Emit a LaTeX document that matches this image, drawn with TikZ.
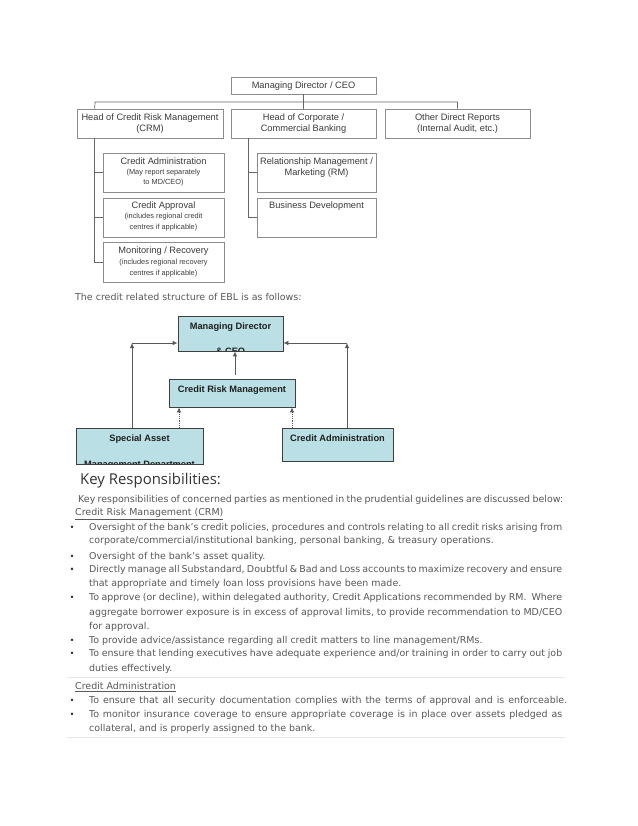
\documentclass[tikz,border=0pt]{standalone}
\usepackage{fontspec}
\usetikzlibrary{arrows.meta}
\newfontfamily\arialf{Liberation Sans}
\newfontfamily\bodyf{DejaVu Sans}
\newfontfamily\headf{Open Sans}
\definecolor{tealfill}{RGB}{186,223,228}
\definecolor{bodygray}{RGB}{88,88,88}
\definecolor{sepgray}{RGB}{232,232,232}
\definecolor{orgtext}{RGB}{60,60,60}
\tikzset{
  obox/.style={draw=black!45, line width=0.6bp, inner sep=0pt},
  otext/.style={font=\arialf\fontsize{9.3}{11}\selectfont, text=orgtext, inner sep=0pt, anchor=base},
  osub/.style={font=\arialf\fontsize{7.4}{9}\selectfont, text=orgtext, inner sep=0pt, anchor=base},
  olink/.style={draw=black!60, line width=0.7bp},
  tbox/.style={draw=black!75, fill=tealfill, line width=0.8bp, inner sep=0pt},
  ttext/.style={font=\arialf\bfseries\fontsize{9.3}{11}\selectfont, text=black!88, anchor=base, inner sep=0pt},
  tarrow/.style={draw=black!65, line width=0.8bp, -{Latex[length=5bp,width=4.5bp]}},
  tdotted/.style={tarrow, densely dotted},
  body/.style={font=\bodyf\fontsize{9.5}{11}\selectfont, text=bodygray, anchor=base west, inner sep=0pt},
  bul/.style={font=\bodyf\fontsize{8.5}{10}\selectfont, text=black!80, anchor=base, inner sep=0pt},
  heading/.style={font=\headf\fontsize{15}{18}\selectfont, text=black!80, anchor=base west, inner sep=0pt},
  sep/.style={draw=sepgray, line width=0.8bp}
}
\begin{document}
\begin{tikzpicture}[x=1bp, y=-1bp]
\useasboundingbox[fill=white] (0,0) rectangle (638,826);

% ---------- Chart 1 ----------
\node[obox, minimum width=145bp, minimum height=17bp] (md1) at (303.5,85.5) {};
\node[obox, minimum width=146bp, minimum height=29bp] (crm1) at (150,123.5) {};
\node[obox, minimum width=145bp, minimum height=29bp] (corp1) at (303.5,123.5) {};
\node[obox, minimum width=145bp, minimum height=29bp] (oth1) at (457.5,123.5) {};
\node[obox, minimum width=121bp, minimum height=39bp] (ca1) at (163.5,172.5) {};
\node[obox, minimum width=121bp, minimum height=39bp] (cap1) at (163.5,217.5) {};
\node[obox, minimum width=121bp, minimum height=40bp] (mon1) at (163.5,262) {};
\node[obox, minimum width=119bp, minimum height=39bp] (rm1) at (316.5,172.5) {};
\node[obox, minimum width=119bp, minimum height=39bp] (bd1) at (316.5,217.5) {};

\node[otext] (md1t) at (303.5,88.5) {Managing Director / CEO};
\node[otext] (crm1a) at (150,120.5) {Head of Credit Risk Management};
\node[otext] (crm1b) at (150,131.5) {(CRM)};
\node[otext] (corp1a) at (303.5,120.5) {Head of Corporate /};
\node[otext] (corp1b) at (303.5,131.5) {Commercial Banking};
\node[otext] (oth1a) at (457.5,120.5) {Other Direct Reports};
\node[otext] (oth1b) at (457.5,131.5) {(Internal Audit, etc.)};
\node[otext] (ca1a) at (163.5,164.5) {Credit Administration};
\node[osub] (ca1b) at (163.5,174.7) {(May report separately};
\node[osub] (ca1c) at (163.5,184.7) {to MD/CEO)};
\node[otext] (cap1a) at (163.5,208.5) {Credit Approval};
\node[osub] (cap1b) at (163.5,218.7) {(includes regional credit};
\node[osub] (cap1c) at (163.5,229.7) {centres if applicable)};
\node[otext] (mon1a) at (163.5,253.5) {Monitoring / Recovery};
\node[osub] (mon1b) at (163.5,264.7) {(includes regional recovery};
\node[osub] (mon1c) at (163.5,275.7) {centres if applicable)};
\node[otext] (rm1a) at (316.5,164.5) {Relationship Management /};
\node[otext] (rm1b) at (316.5,175.5) {Marketing (RM)};
\node[otext] (bd1a) at (316.5,208.5) {Business Development};

\coordinate (busL) at (95,102);
\coordinate (busR) at (457.5,102);
\draw[olink] ([xshift=18bp]crm1.north west) -- (busL) -- (busR) -- (oth1.north);
\draw[olink] (md1.south) -- (corp1.north);
\draw[olink] ([xshift=18bp]crm1.south west) |- (mon1.west);
\draw[olink] (ca1.west) -- ++(-8,0);
\draw[olink] (cap1.west) -- ++(-8,0);
\draw[olink] ([xshift=18bp]corp1.south west) |- (bd1.west);
\draw[olink] (rm1.west) -- ++(-8,0);

% ---------- caption ----------
\node[body] (cap) at (75,300) {The credit related structure of EBL is as follows:};

% ---------- Chart 2 ----------
\node[tbox, minimum width=105bp, minimum height=35bp] (md2) at (230.5,333.5) {};
\node[tbox, minimum width=126bp, minimum height=28bp] (crm2) at (232,393) {};
\node[tbox, minimum width=127bp, minimum height=36bp] (sa2) at (139.5,446) {};
\node[tbox, minimum width=111bp, minimum height=33bp] (ca2) at (337.5,444.5) {};

\node[ttext] (md2a) at (230.5,329.5) {Managing Director};
\begin{scope}
  \clip (178,316) rectangle (283,350.6);
  \node[ttext] (md2b) at (230.5,354.5) {\& CEO};
\end{scope}
\node[ttext] (crm2a) at (232,392.5) {Credit Risk Management};
\node[ttext] (sa2a) at (139.5,441.5) {Special Asset};
\begin{scope}
  \clip (76,428) rectangle (203,463.6);
  \node[ttext] (sa2b) at (139.5,467) {Management Department};
\end{scope}
\node[ttext] (ca2a) at (337.5,441.5) {Credit Administration};

\coordinate (cL) at (132,343);
\coordinate (cR) at (347,343);
\coordinate (crmTop) at (235,375);
\coordinate (dL) at (179,0);
\coordinate (dR) at (292,0);
\draw[tarrow] (sa2.north -| cL) -- (cL);
\draw[tarrow] (cL) -- (cL -| md2.west);
\draw[tarrow] (ca2.north -| cR) -- (cR);
\draw[tarrow] (cR) -- (cR -| md2.east);
\draw[tarrow] (crmTop) -- (crmTop |- md2.south);
\draw[tdotted] (sa2.north -| dL) -- (crm2.south -| dL);
\draw[tdotted] (ca2.north -| dR) -- (crm2.south -| dR);

% ---------- Key Responsibilities ----------
\node[heading] (hd) at (80,484) {Key Responsibilities:};
\node[body] (p0) at (78,502.5) {\makebox[485bp][s]{Key responsibilities of concerned parties as mentioned in the prudential guidelines are discussed below:}};
\node[body] (h1) at (75,515.5) {\underline{Credit Risk Management (CRM)}};

\node[bul] (u1) at (72,530.5) {•};
\node[body] (b1a) at (89,530.5) {\makebox[473bp][s]{Oversight of the bank’s credit policies, procedures and controls relating to all credit risks arising from}};
\node[body] (b1b) at (89,543.5) {corporate/commercial/institutional banking, personal banking, \& treasury operations.};
\node[bul] (u2) at (72,559.5) {•};
\node[body] (b2a) at (89,559.5) {Oversight of the bank’s asset quality.};
\node[bul] (u3) at (72,572.5) {•};
\node[body] (b3a) at (89,572.5) {\makebox[473bp][s]{Directly manage all Substandard, Doubtful \& Bad and Loss accounts to maximize recovery and ensure}};
\node[body] (b3b) at (89,586.5) {that appropriate and timely loan loss provisions have been made.};
\node[bul] (u4) at (72,600.5) {•};
\node[body] (b4a) at (89,600.5) {\makebox[473bp][s]{To approve (or decline), within delegated authority, Credit Applications recommended by RM.\ \ Where}};
\node[body] (b4b) at (89,615) {\makebox[473bp][s]{aggregate borrower exposure is in excess of approval limits, to provide recommendation to MD/CEO}};
\node[body] (b4c) at (89,629) {for approval.};
\node[bul] (u5) at (72,643.5) {•};
\node[body] (b5a) at (89,643.5) {To provide advice/assistance regarding all credit matters to line management/RMs.};
\node[bul] (u6) at (72,656.5) {•};
\node[body] (b6a) at (89,656.5) {\makebox[473bp][s]{To ensure that lending executives have adequate experience and/or training in order to carry out job}};
\node[body] (b6b) at (89,671) {duties effectively.};

\coordinate (s1L) at (67,677);
\coordinate (s1R) at (565,677);
\draw[sep] (s1L) -- (s1R);

\node[body] (h2) at (75,689.5) {\underline{Credit Administration}};
\node[bul] (u7) at (72,703.5) {•};
\node[body] (b7a) at (89,703.5) {\makebox[478bp][s]{To ensure that all security documentation complies with the terms of approval and is enforceable.}};
\node[bul] (u8) at (72,717.5) {•};
\node[body] (b8a) at (89,717.5) {\makebox[473bp][s]{To monitor insurance coverage to ensure appropriate coverage is in place over assets pledged as}};
\node[body] (b8b) at (89,731.5) {collateral, and is properly assigned to the bank.};

\coordinate (s2L) at (67,737);
\coordinate (s2R) at (565,737);
\draw[sep] (s2L) -- (s2R);
\end{tikzpicture}
\end{document}
